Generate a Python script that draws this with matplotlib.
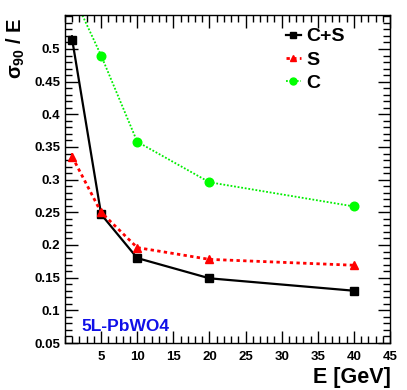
import numpy as np
import matplotlib
matplotlib.use('Agg')
import matplotlib.pyplot as plt
from matplotlib.lines import Line2D
from matplotlib.ticker import MultipleLocator

plt.rcParams['font.family'] = ['Liberation Sans', 'DejaVu Sans']
plt.rcParams['font.weight'] = 'bold'

# Datos
energy = [1, 5, 10, 20, 40]
res_cs = [0.514, 0.247, 0.180, 0.149, 0.130]
err_cs = [0.008, 0.006, 0.003, 0.002, 0.002]
res_s = [0.335, 0.250, 0.196, 0.178, 0.169]
err_s = [0.006, 0.004, 0.002, 0.002, 0.002]
res_c = [0.585, 0.490, 0.358, 0.296, 0.259]
err_c = [0.008, 0.006, 0.006, 0.003, 0.004]
labels = ['C+S', 'S', 'C']

fig = plt.figure(figsize=(4.07, 3.90), dpi=100)
ax = fig.add_axes([65 / 407, 1 - 343 / 390, 325 / 407, 328 / 390])

# Series
styles = [dict(color='black', marker='s', lw=1.6, ls='-'),
          dict(color='#ff0000', marker='^', lw=2.0, ls=(0, (1.2, 1.2))),
          dict(color='#00ee00', marker='o', lw=1.3, ls=(0, (1, 1)),
               mfc='#00ff00', mec='#00ff00')]
for y, e, st in zip([res_cs, res_s, res_c], [err_cs, err_s, err_c], styles):
    ax.errorbar(energy, y, yerr=e, ms=6.2, elinewidth=1.2, capsize=0, **st)

ax.set_xlim(0, 45)
ax.set_ylim(0.05, 0.552)

# Ejes estilo ROOT
ax.xaxis.set_major_locator(MultipleLocator(5))
ax.xaxis.set_minor_locator(MultipleLocator(1))
ax.yaxis.set_major_locator(MultipleLocator(0.05))
ax.yaxis.set_minor_locator(MultipleLocator(0.01))
ax.tick_params(which='both', direction='in', top=True, right=True,
               labelsize=9.5, width=1.0)
ax.tick_params(which='major', length=9)
ax.tick_params(which='minor', length=5)
for s in ax.spines.values():
    s.set_linewidth(1.0)

xt = [5, 10, 15, 20, 25, 30, 35, 40, 45]
ax.set_xticks(xt)
ax.set_xticklabels([str(v) for v in xt])
yt = np.round(np.arange(0.05, 0.501, 0.05), 2)
ax.set_yticks(yt)
ax.set_yticklabels(['{:g}'.format(v) for v in yt])
ax.tick_params(axis='x', pad=6)

# Etiquetas
fig.text(391 / 407, 1 - 383 / 390, 'E [GeV]', ha='right', va='baseline',
         fontsize=15.5, fontweight='bold')
fig.text(5 / 407, 1 - 17 / 390, r'$\mathregular{σ_{90}}$ / E', ha='left',
         va='top', rotation=90, fontsize=14.5, fontweight='bold')

ax.text(0.052, 0.037, '5L-PbWO4', transform=ax.transAxes, color='#1010e8',
        fontsize=12.5, fontweight='bold', ha='left', va='baseline')

# Leyenda
handles = [Line2D([], [], ms=5, **st) for st in styles]
ax.legend(handles, labels, loc='upper left', bbox_to_anchor=(0.655, 0.985),
          frameon=False, fontsize=14, handlelength=0.8, handletextpad=0.25,
          labelspacing=0.3, borderaxespad=0.0)

fig.savefig('out.png', dpi=100)
